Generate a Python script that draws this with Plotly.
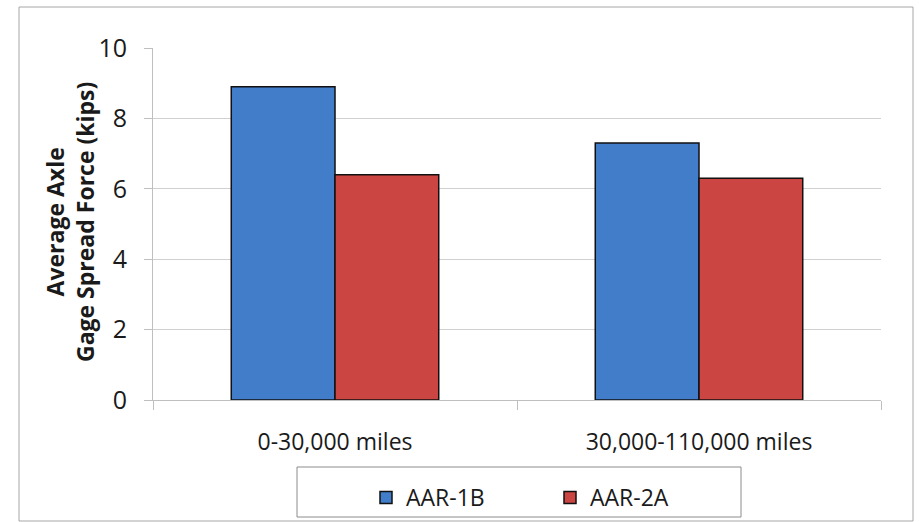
import plotly.graph_objects as go

# Mileage bins and average axle gage spread force per truck type (kips)
categories = ["0-30,000 miles", "30,000-110,000 miles"]
aar_1b = [8.9, 7.3]
aar_2a = [6.4, 6.3]
y_ticks = [0, 2, 4, 6, 8, 10]

FONT = "Open Sans, Liberation Sans, sans-serif"

fig = go.Figure()
fig.add_trace(go.Bar(
    name="AAR-1B", x=categories, y=aar_1b,
    marker=dict(color="#417DC8", line=dict(color="#111111", width=1.5)),
))
fig.add_trace(go.Bar(
    name="AAR-2A", x=categories, y=aar_2a,
    marker=dict(color="#CB4542", line=dict(color="#111111", width=1.5)),
))

W, H = 919, 522
L, R, T, B = 153, 38, 48, 122
pw, ph = W - L - R, H - T - B

def px_x(px):
    return (px - L) / pw

def px_y(py):
    return (H - B - py) / ph

fig.update_layout(
    width=W, height=H,
    margin=dict(l=L, r=R, t=T, b=B, autoexpand=False),
    paper_bgcolor="white", plot_bgcolor="white",
    barmode="group", bargap=0.43, bargroupgap=0,
    font=dict(family=FONT, color="#1a1a1a"),
    showlegend=True,
    legend=dict(
        orientation="h", x=px_x(366), xanchor="left",
        y=px_y(476), yanchor="top",
        font=dict(size=23, family=FONT),
        bgcolor="rgba(0,0,0,0)", borderwidth=0,
        entrywidth=139, itemwidth=30,
    ),
    xaxis=dict(
        automargin=False,
        showgrid=False, showline=True, linecolor="#bfbfbf", linewidth=1,
        ticks="outside", ticklen=9, tickcolor="#bfbfbf",
        tickson="boundaries",
        tickfont=dict(size=23, family=FONT),
        ticklabelstandoff=21,
    ),
    yaxis=dict(
        automargin=False,
        range=[0, 10], tickvals=y_ticks,
        showgrid=True, gridcolor="#d0d0d0", gridwidth=1,
        showline=True, linecolor="#bfbfbf", linewidth=1,
        ticks="outside", ticklen=8, tickcolor="#bfbfbf",
        tickfont=dict(size=25, family=FONT),
        ticklabelstandoff=12,
        zeroline=False,
    ),
    shapes=[
        # outer chart frame
        dict(type="rect", xref="paper", yref="paper",
             x0=px_x(19), x1=px_x(913), y0=px_y(521), y1=px_y(7),
             line=dict(color="#a6a6a6", width=1), layer="below"),
        # legend box
        dict(type="rect", xref="paper", yref="paper",
             x0=px_x(297), x1=px_x(741), y0=px_y(517), y1=px_y(467),
             line=dict(color="#8c8c8c", width=1), layer="below"),
    ],
    annotations=[
        dict(text="<b>Average Axle<br>Gage Spread Force (kips)</b>",
             xref="paper", yref="paper", x=px_x(70), y=px_y(222),
             xanchor="center", yanchor="middle", textangle=-90,
             showarrow=False, font=dict(size=23, family=FONT)),
    ],
)

fig.write_html("out.html")
